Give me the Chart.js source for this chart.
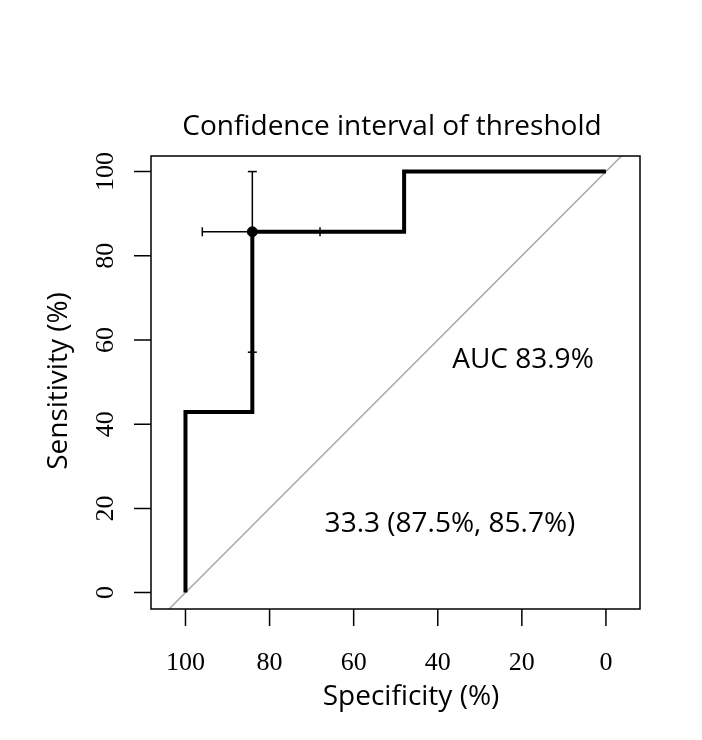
<!DOCTYPE html>
<html lang="en">
  <head>
    <meta charset="UTF-8" />
    <title>Confidence interval of threshold</title>
    <style>
      body {
        margin: 0;
        background: #fff;
      }
      canvas {
        display: block;
      }
    </style>
  </head>
  <body>
    <canvas id="roc" width="702" height="740"></canvas>

    <script src="https://cdn.jsdelivr.net/npm/chart.js"></script>
    <script>
      // ROC curve corners (specificity %, sensitivity %)
      const rocSpec = [100, 100, 84.1, 84.1, 48, 48, 0];
      const rocSens = [0, 42.9, 42.9, 85.7, 85.7, 100, 100];

      // best threshold and its confidence intervals
      const thrSpec = 84.1;
      const thrSens = 85.7;
      const ciSens = [57.1, 100];
      const ciSpec = [96, 68];

      const diagSpec = [110, -10];
      const diagSens = [-10, 110];

      const tickValues = [0, 20, 40, 60, 80, 100];
      const aucText = "AUC 83.9%";
      const thrText = "33.3 (87.5%, 85.7%)";

      const pts = (xs, ys) => xs.map((x, i) => ({ x: x, y: ys[i] }));

      const SANS = '"Open Sans", sans-serif';
      const SERIF = '"Liberation Serif", serif';

      const rPlot = {
        id: "rPlot",
        afterDraw(chart) {
          const ctx = chart.ctx;
          const a = chart.chartArea;
          const xs = chart.scales.x;
          const ys = chart.scales.y;
          ctx.save();
          ctx.strokeStyle = "#000";
          ctx.lineWidth = 1.5;
          ctx.strokeRect(a.left, a.top, a.right - a.left, a.bottom - a.top);

          // axis ticks
          ctx.beginPath();
          tickValues.forEach((v) => {
            const px = xs.getPixelForValue(v);
            ctx.moveTo(px, a.bottom);
            ctx.lineTo(px, a.bottom + 17);
            const py = ys.getPixelForValue(v);
            ctx.moveTo(a.left, py);
            ctx.lineTo(a.left - 17, py);
          });
          ctx.stroke();

          ctx.fillStyle = "#000";
          ctx.font = "26px " + SERIF;
          ctx.textAlign = "center";
          ctx.textBaseline = "alphabetic";
          tickValues.forEach((v) => {
            ctx.fillText(String(v), xs.getPixelForValue(v), 670);
            ctx.save();
            ctx.translate(113, ys.getPixelForValue(v));
            ctx.rotate(-Math.PI / 2);
            ctx.fillText(String(v), 0, 0);
            ctx.restore();
          });

          ctx.font = "28px " + SANS;
          ctx.fillText("Confidence interval of threshold", 392, 135);
          ctx.fillText("Specificity (%)", 411, 705);
          ctx.fillText(aucText, 523, 368);
          ctx.fillText(thrText, 450, 532);
          ctx.save();
          ctx.translate(67, 381);
          ctx.rotate(-Math.PI / 2);
          ctx.fillText("Sensitivity (%)", 0, 0);
          ctx.restore();
          ctx.restore();
        },
      };

      new Chart(document.getElementById("roc"), {
        type: "scatter",
        data: {
          datasets: [
            {
              data: pts([thrSpec], [thrSens]),
              pointRadius: 5,
              pointBackgroundColor: "#000",
              pointBorderColor: "#000",
              order: 0,
            },
            {
              data: pts(rocSpec, rocSens),
              showLine: true,
              borderColor: "#000",
              borderWidth: 4,
              borderJoinStyle: "miter",
              pointRadius: 0,
              order: 1,
            },
            {
              data: pts([thrSpec, thrSpec], ciSens),
              showLine: true,
              borderColor: "#000",
              borderWidth: 1.5,
              pointStyle: "line",
              pointRadius: 4.5,
              pointBorderWidth: 1.5,
              pointBorderColor: "#000",
              order: 2,
            },
            {
              data: pts(ciSpec, [thrSens, thrSens]),
              showLine: true,
              borderColor: "#000",
              borderWidth: 1.5,
              pointStyle: "line",
              pointRotation: 90,
              pointRadius: 4.5,
              pointBorderWidth: 1.5,
              pointBorderColor: "#000",
              order: 2,
            },
            {
              data: pts(diagSpec, diagSens),
              showLine: true,
              borderColor: "#a8a8a8",
              borderWidth: 1.5,
              pointRadius: 0,
              order: 3,
            },
          ],
        },
        options: {
          responsive: false,
          animation: false,
          layout: { padding: { left: 151, right: 62, top: 156, bottom: 131 } },
          scales: {
            x: { type: "linear", reverse: true, min: -8.1, max: 108.2, display: false },
            y: { type: "linear", min: -3.9, max: 103.7, display: false },
          },
          plugins: {
            legend: { display: false },
            tooltip: { enabled: false },
          },
        },
        plugins: [rPlot],
      });
    </script>
  </body>
</html>
